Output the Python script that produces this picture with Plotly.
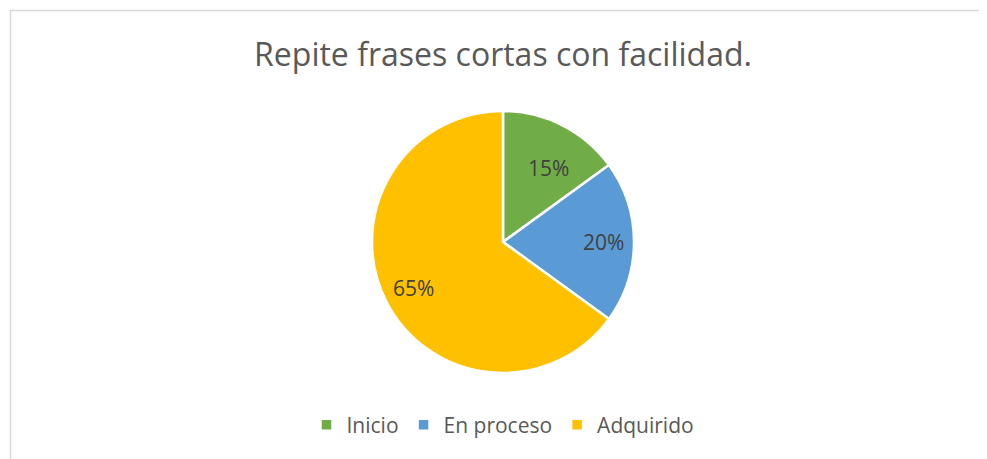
import numpy as np
import plotly.graph_objects as go

labels = ['Inicio', 'En proceso', 'Adquirido']
values = [15, 20, 65]
colors = ['#70AD47', '#5B9BD5', '#FFC000']

# figure sized to fit the window inside the page's 8px body margin
W, H = 979, 451
# pie centre and radius in figure pixels
cx, cy, R = 495, 234, 131

fig = go.Figure(
    go.Pie(
        labels=labels,
        values=values,
        sort=False,
        direction='clockwise',
        rotation=0,
        marker=dict(colors=colors, line=dict(color='white', width=2.5)),
        textinfo='none',
        domain={'x': [(cx - R) / W, (cx + R) / W],
                'y': [1 - (cy + R) / H, 1 - (cy - R) / H]},
        hoverinfo='label+percent'
    )
)

# percentage labels placed further out in each slice, like Excel's best fit
total = sum(values)
start = 0
for v in values:
    mid = (start + v / 2) / total * 2 * np.pi
    start += v
    px_x = cx + 0.77 * R * np.sin(mid)
    px_y = cy - 0.77 * R * np.cos(mid)
    fig.add_annotation(
        x=px_x / W, y=1 - px_y / H, xref='paper', yref='paper',
        text=f'{round(v / total * 100)}%', showarrow=False,
        font=dict(size=21, color='#404040', family='Open Sans')
    )

# light grey chart border (runs off the window on the right and bottom)
fig.add_shape(type='rect', xref='paper', yref='paper',
              x0=2.5 / W, y0=1 - 2.5 / H, x1=1 + 3 / W, y1=-3 / H,
              line=dict(color='#D9D9D9', width=1.5), layer='below')

fig.update_layout(
    width=W, height=H,
    margin=dict(l=0, r=0, t=0, b=0),
    paper_bgcolor='white',
    plot_bgcolor='white',
    font=dict(family='Open Sans', color='#595959'),
    title=dict(
        text='Repite frases cortas con facilidad.',
        font=dict(size=32, color='#595959', family='Open Sans'),
        x=cx / W, xanchor='center',
        y=1 - 47 / H, yanchor='middle'
    ),
    legend=dict(
        orientation='h',
        x=cx / W, xanchor='center',
        y=1 - 417 / H, yanchor='middle',
        font=dict(size=21, color='#595959'),
        itemwidth=30,
        traceorder='normal'
    ),
    showlegend=True
)

fig.write_html("out.html")
